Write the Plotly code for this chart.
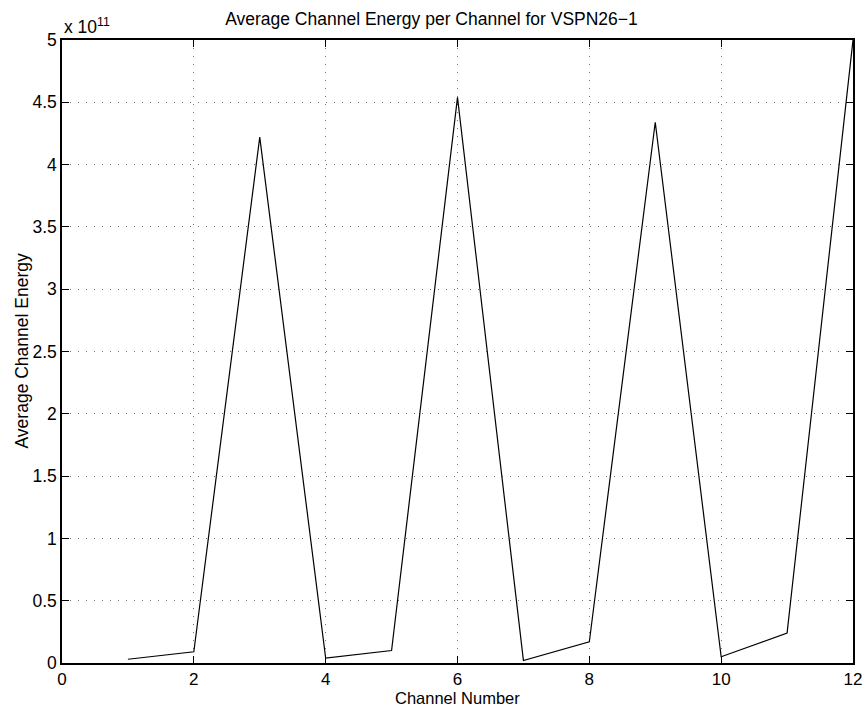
import plotly.graph_objects as go

# Average energy per channel, in units of 1e11
channels = [1, 2, 3, 4, 5, 6, 7, 8, 9, 10, 11, 12]
energy_e11 = [0.03, 0.09, 4.22, 0.04, 0.10, 4.54, 0.02, 0.17, 4.34, 0.05, 0.24, 5.00]
scale = 1e11
energy = [v * scale for v in energy_e11]

x_ticks = [0, 2, 4, 6, 8, 10, 12]
y_ticks_e11 = [0, 0.5, 1, 1.5, 2, 2.5, 3, 3.5, 4, 4.5, 5]
y_tick_text = ["0", "0.5", "1", "1.5", "2", "2.5", "3", "3.5", "4", "4.5", "5"]

FONT = "Liberation Sans, Arial, Helvetica, sans-serif"
FS = 17.5

fig = go.Figure()
fig.add_trace(go.Scatter(
    x=channels, y=energy, mode="lines",
    line=dict(color="black", width=1.2),
    showlegend=False,
))

# plot area spans pixel rows 40..663 and columns 62..853
L, R, T, B = 62, 11, 40, 44
W, H = 864, 707
ph = H - T - B
pw = W - L - R

axis_common = dict(
    showline=True, linecolor="black", mirror="allticks",
    ticks="inside", ticklen=7, tickcolor="black",
    showgrid=True, gridcolor="rgba(0,0,0,0.55)", griddash="1px,7px", gridwidth=1,
    zeroline=False,
)

fig.update_xaxes(range=[0, 12], tickvals=x_ticks, linewidth=2,
                 tickfont=dict(family=FONT, size=17, color="black"), **axis_common)
fig.update_yaxes(range=[0, 5 * scale], tickvals=[v * scale for v in y_ticks_e11],
                 ticktext=y_tick_text, linewidth=1.5,
                 tickfont=dict(family=FONT, size=FS, color="black"), **axis_common)

def py(pix):
    return (H - B - pix) / ph

def px(pix):
    return (pix - L) / pw

fig.add_annotation(text="Channel Number", xref="paper", yref="paper",
                   x=0.5, y=py(697.5), xanchor="center", yanchor="middle",
                   showarrow=False, font=dict(family=FONT, size=16.5, color="black"))
fig.add_annotation(text="Average Channel Energy", xref="paper", yref="paper",
                   x=px(21), y=0.5, xanchor="center", yanchor="middle", textangle=-90,
                   showarrow=False, font=dict(family=FONT, size=FS, color="black"))
fig.add_annotation(text="x 10<sup>11</sup>", xref="paper", yref="paper",
                   x=0, y=py(26), xanchor="left", yanchor="middle",
                   showarrow=False, font=dict(family=FONT, size=FS, color="black"))

fig.update_layout(
    width=W, height=H,
    margin=dict(l=L, r=R, t=T, b=B, autoexpand=False),
    paper_bgcolor="white", plot_bgcolor="white",
    title=dict(text="Average Channel Energy per Channel for VSPN26\u22121",
               x=px(457), xanchor="center", y=1 - 19 / H, yanchor="middle",
               font=dict(family=FONT, size=FS, color="black")),
)

fig.write_html("out.html")
